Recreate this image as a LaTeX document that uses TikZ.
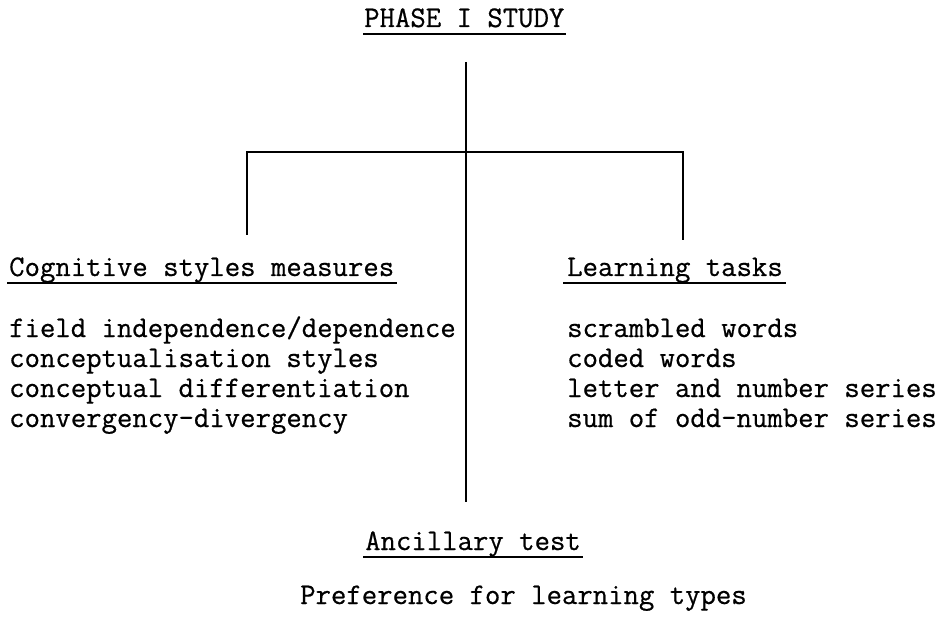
\documentclass[tikz,border=0pt]{standalone}
\usepackage{fontspec}
\setmonofont[FakeBold=0.6]{Latin Modern Mono}
\begin{document}
\begin{tikzpicture}[x=1pt,y=-1pt,
  txt/.style={anchor=base west,inner sep=0pt,font=\ttfamily\fontsize{29.9}{30}\selectfont},
  conn/.style={line width=1.6pt,black},
  uline/.style={line width=2.4pt,black}]
\useasboundingbox (0,0) rectangle (939,620);
% headings
\node[txt] (title) at (364,27) {PHASE I STUDY};
\node[txt] (cog) at (9,276) {Cognitive styles measures};
\node[txt] (learn) at (567,276) {Learning tasks};
\node[txt] (anc) at (365,550) {Ancillary test};
% underlines
\draw[uline] ([xshift=-1pt,yshift=-7pt]title.base west) -- ([xshift=1pt,yshift=-7pt]title.base east);
\draw[uline] ([xshift=-2pt,yshift=-7pt]cog.base west) -- ([xshift=3pt,yshift=-7pt]cog.base east);
\draw[uline] ([xshift=-4pt,yshift=-7pt]learn.base west) -- ([xshift=3pt,yshift=-7pt]learn.base east);
\draw[uline] ([xshift=-2pt,yshift=-7pt]anc.base west) -- ([xshift=2pt,yshift=-7pt]anc.base east);
% lists
\node[txt] (c1) at (9,337) {field independence/dependence};
\node[txt] (c2) at (9,367) {conceptualisation styles};
\node[txt] (c3) at (9,397) {conceptual differentiation};
\node[txt] (c4) at (9,427) {convergency-divergency};
\node[txt] (l1) at (567,337) {scrambled words};
\node[txt] (l2) at (567,367) {coded words};
\node[txt] (l3) at (567,397) {letter and number series};
\node[txt] (l4) at (567,427) {sum of odd-number series};
\node[txt] (pref) at (300,604) {Preference for learning types};
% connectors
\coordinate (top) at (466,62);
\coordinate (bot) at (466,502);
\coordinate (hl) at (247,152);
\coordinate (hr) at (683,152);
\coordinate (el) at (247,235);
\coordinate (er) at (683,240);
\draw[conn] (top) -- (bot);
\draw[conn] (el) -- (hl) -- (hr) -- (er);
\end{tikzpicture}
\end{document}
